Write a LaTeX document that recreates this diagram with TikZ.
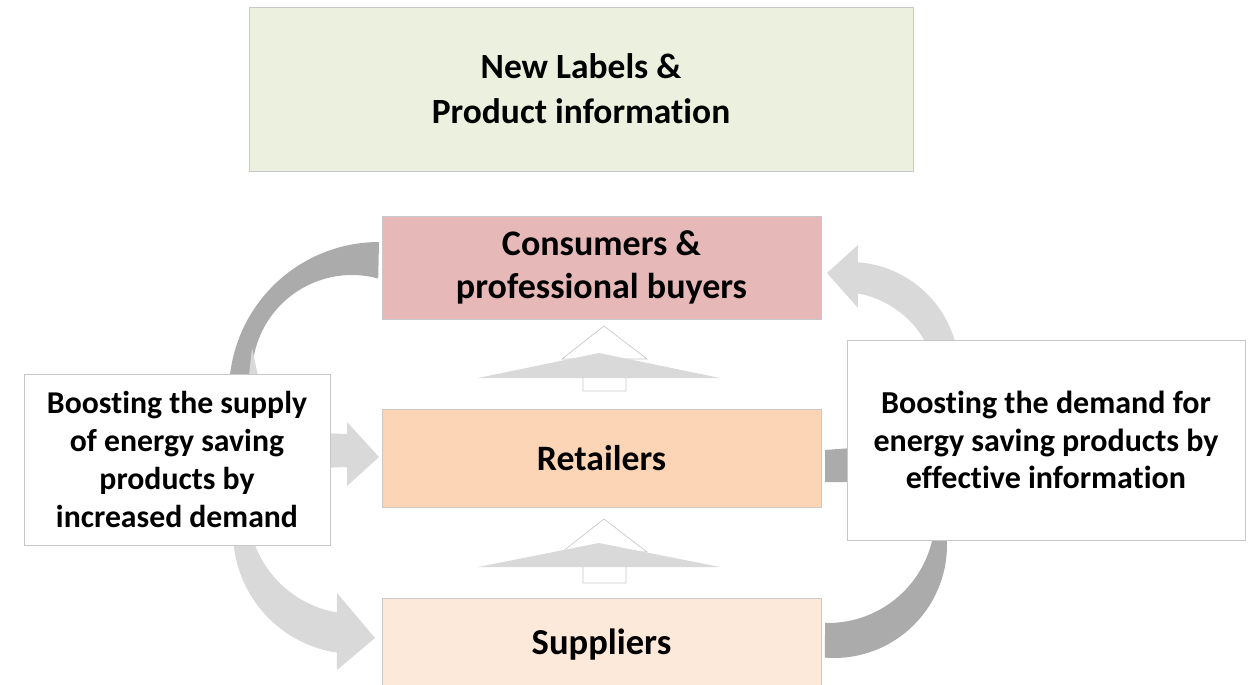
\documentclass[tikz,border=0pt]{standalone}
\usepackage{fontspec}
\setmainfont{Carlito}[Ligatures=NoCommon]
\definecolor{darkarc}{HTML}{ABABAB}
\definecolor{lightarc}{HTML}{D9D9D9}
\definecolor{boxline}{HTML}{C8C8C8}
\definecolor{topfill}{HTML}{EBF1DE}
\definecolor{consfill}{HTML}{E6B9B8}
\definecolor{retfill}{HTML}{FBD5B5}
\definecolor{supfill}{HTML}{FDE9D9}
\tikzset{
  box/.style={draw=boxline, line width=0.6pt, inner sep=0pt, outer sep=0pt, align=center, font=\bfseries},
  darkshape/.style={fill=darkarc},
  lightshape/.style={fill=lightarc},
  hollowarrow/.style={draw=boxline, fill=white, line width=0.5pt},
}
\begin{document}
\begin{tikzpicture}[x=0.75pt, y=-0.75pt]
\useasboundingbox (0,0) rectangle (1256,685);
\fill[white] (0,0) rectangle (1256,685);

% --- left side: dark arc into consumers
\fill[darkshape] plot[domain=270:172, samples=40, variable=\t] ({379+150*cos(\t)},{392+150*sin(\t)})
  -- plot[domain=168:285.2, samples=40, variable=\t] ({352+100*cos(\t)},{375+100*sin(\t)}) -- cycle;
\fill[lightshape] (249,376) -- (252,348) -- (258,376) -- cycle;
% --- left middle arrow to retailers
\fill[lightshape] (320,433) -- (347,434) -- (347,422) -- (379,457) -- (347,486) -- (347,467) -- (320,468) -- cycle;
% --- left lower arc to suppliers
\fill[lightshape] plot[domain=188:98.5, samples=40, variable=\t] ({355+122*cos(\t)},{532+122*sin(\t)})
  -- (337,670) -- (375,638) -- (337,593)
  -- plot[domain=99.7:188, samples=40, variable=\t] ({355+107*cos(\t)},{507+107*sin(\t)}) -- cycle;

% --- right top arc to consumers
\fill[lightshape] (827,273) -- (858,245)
  -- plot[domain=274.2:352, samples=40, variable=\t] ({850+109*cos(\t)},{371+109*sin(\t)})
  -- plot[domain=342:280.1, samples=40, variable=\t] ({841+96*cos(\t)},{388+96*sin(\t)})
  -- (858,308) -- cycle;
% --- right middle stub to retailers
\fill[darkshape] (825,450) -- (852,448) -- (852,482) -- (825,482) -- cycle;
% --- right lower arc from suppliers
\fill[darkshape] plot[domain=-12:94.6, samples=40, variable=\t] ({834+113*cos(\t)},{545+113*sin(\t)})
  -- plot[domain=91.6:-3, samples=40, variable=\t] ({828+107*cos(\t)},{516+107*sin(\t)}) -- cycle;

% --- up arrows between boxes
\draw[hollowarrow] (583,359) -- (583,391) -- (626,391) -- (626,359) -- (647,359) -- (604,326) -- (562,359) -- cycle;
\fill[lightshape] (478,378) -- (599,353) -- (720,378) -- cycle;
\draw[hollowarrow] (583,552) -- (583,583) -- (626,583) -- (626,552) -- (647,552) -- (604,519) -- (562,552) -- cycle;
\fill[lightshape] (478,567) -- (599,543) -- (720,567) -- cycle;

% --- boxes
\node[box, fill=topfill, minimum width=498pt, minimum height=123pt,
      font=\bfseries\fontsize{26.6}{33.75}\selectfont] (labels) at (581,89)
      {New Labels \&\\Product information};
\node[box, fill=consfill, minimum width=329.25pt, minimum height=77.25pt,
      font=\bfseries\fontsize{27}{32.3}\selectfont] (consumers) at (601.5,267.5)
      {Consumers \&\\professional buyers};
\node[box, fill=retfill, minimum width=329.25pt, minimum height=73.5pt,
      font=\bfseries\fontsize{26.8}{32}\selectfont] (retailers) at (601.5,458)
      {Retailers};
\node[box, fill=supfill, minimum width=329.25pt, minimum height=70.5pt,
      font=\bfseries\fontsize{27.4}{32}\selectfont] (suppliers) at (601.5,645)
      {Suppliers};
\node[box, fill=white, minimum width=229.5pt, minimum height=128.25pt,
      font=\bfseries\fontsize{23.8}{28.3}\selectfont] (supply) at (177,459.5)
      {Boosting the supply\\of energy saving\\products by\\increased demand};
\node[box, fill=white, minimum width=298.5pt, minimum height=150pt,
      font=\bfseries\fontsize{24}{28}\selectfont] (demand) at (1046,440)
      {Boosting the demand for\\energy saving products by\\effective information};
\end{tikzpicture}
\end{document}
